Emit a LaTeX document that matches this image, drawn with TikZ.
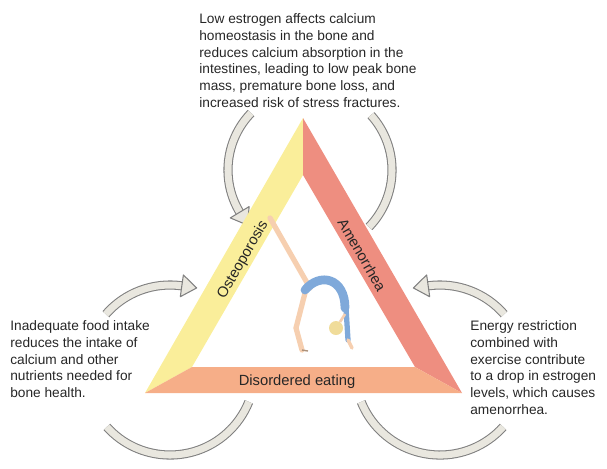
\documentclass[tikz,border=0pt]{standalone}
\usepackage{fontspec}
\setmainfont{Liberation Sans}
\begin{document}
\begin{tikzpicture}[x=0.02cm,y=0.02cm,
  txt/.style={align=left,inner sep=0pt,font=\fontsize{7.8}{9.6}\selectfont,text=black!85},
  lbl/.style={inner sep=0pt,font=\fontsize{8.4}{10}\selectfont,text=black!85},
  arcline/.style={draw=black!50,line width=0.6pt,double=arcfill,double distance=4pt},
  headst/.style={fill=arcfill,draw=black!50,line width=0.6pt,line join=round}]
\definecolor{arcfill}{HTML}{E9E7DF}
\definecolor{yel}{HTML}{FAEE9A}
\definecolor{redb}{HTML}{EE8E80}
\definecolor{peach}{HTML}{F6AE88}
\definecolor{skin}{HTML}{F6CFB0}
\definecolor{leo}{HTML}{7FA9DA}
\definecolor{hair}{HTML}{F0DC9A}
\useasboundingbox (0,0) rectangle (607,468);
\coordinate (ct) at (310,298);
\coordinate (cl) at (170,98);
\coordinate (cr) at (440,98);
% arcs
\draw[arcline] (ct) ++(136:82) arc[start angle=136,end angle=211,radius=82];
\draw[arcline] (ct) ++(42:82) arc[start angle=42,end angle=-44,radius=82];
\draw[arcline] (cl) ++(139:85) arc[start angle=139,end angle=82,radius=85];
\draw[arcline] (cl) ++(222:85) arc[start angle=222,end angle=338,radius=85];
\draw[arcline] (cr) ++(41:85) arc[start angle=41,end angle=98,radius=85];
\draw[arcline] (cr) ++(202:85) arc[start angle=202,end angle=318,radius=85];
\begin{scope}[shift={(ct)},rotate=211]
 \draw[headst] (71,0)--(93,0)--(82,15)--cycle;
\end{scope}
\begin{scope}[shift={(cl)},rotate=82]
 \draw[headst] (74,0)--(96,0)--(85,-15)--cycle;
\end{scope}
\begin{scope}[shift={(cr)},rotate=98]
 \draw[headst] (74,0)--(96,0)--(85,15)--cycle;
\end{scope}
% triangle
\coordinate (A) at (303,350); \coordinate (BL) at (145,75); \coordinate (BR) at (462,75);
\coordinate (a) at (303,293); \coordinate (bl) at (192,101); \coordinate (br) at (415,101);
\fill[yel] (A)--(a)--(bl)--(BL)--cycle;
\fill[redb] (A)--(a)--(br)--(BR)--cycle;
\fill[peach] (BL)--(bl)--(br)--(BR)--cycle;
\node[lbl,rotate=60] (ost) at (243,208) {Osteoporosis};
\node[lbl,rotate=-60] (ame) at (362,213) {Amenorrhea};
\node[lbl] (dis) at (297,86) {Disordered eating};
% gymnast
\draw[skin,line width=3pt,line cap=round] (270,250)--(310,180);
\draw[skin,line width=3pt,line cap=round] (305,175)--(296,140)--(302,118);
\draw[skin!70!black,line width=0.8pt] (302,118)--(308,117);
\draw[leo,line width=5pt,line cap=round] (305,178) .. controls (320,196) and (345,190) .. (345,160);
\draw[leo,line width=3pt,line cap=round] (346,160)--(348,128);
\draw[skin,line width=2pt,line cap=round] (348,128)--(352,120);
\fill[hair] (336,140) circle (7);
\draw[skin,line width=1.5pt] (345,154)--(340,146);
% texts
\node[txt,anchor=north west] (top) at (199,455) {Low estrogen affects calcium\\homeostasis in the bone and\\reduces calcium absorption in the\\intestines, leading to low peak bone\\mass, premature bone loss, and\\increased risk of stress fractures.};
\node[txt,anchor=north west] (left) at (10,148) {Inadequate food intake\\reduces the intake of\\calcium and other\\nutrients needed for\\bone health.};
\node[txt,anchor=north west] (right) at (470,148) {Energy restriction\\combined with\\exercise contribute\\to a drop in estrogen\\levels, which causes\\amenorrhea.};
\end{tikzpicture}
\end{document}
